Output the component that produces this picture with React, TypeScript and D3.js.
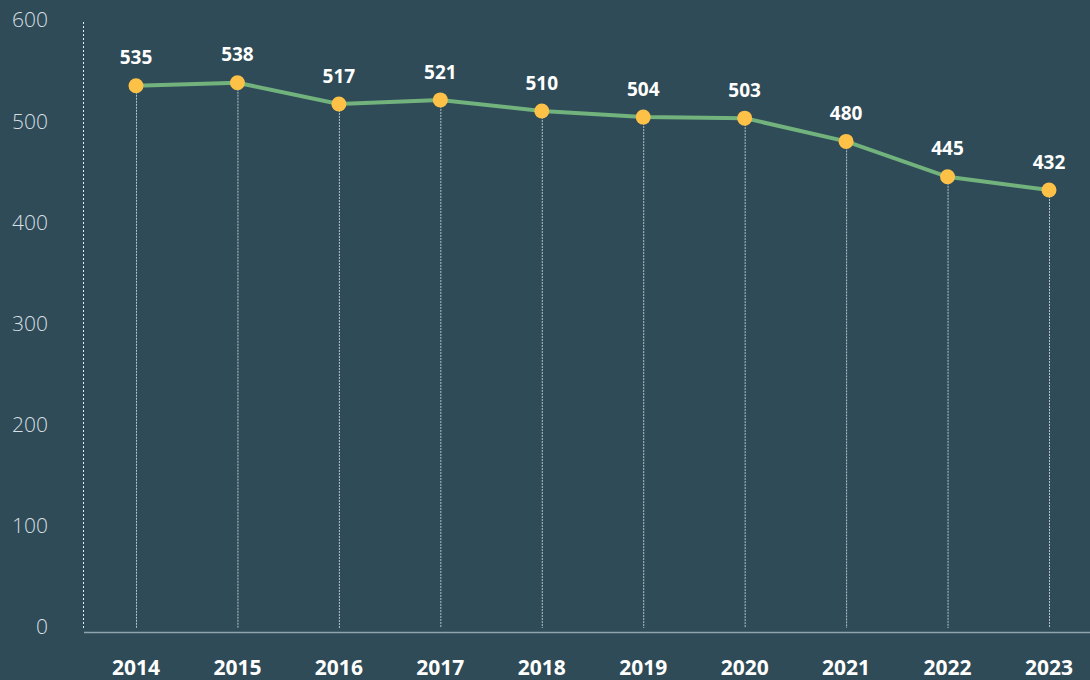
import React from "react";
import * as d3 from "d3";

const years = ["2014", "2015", "2016", "2017", "2018", "2019", "2020", "2021", "2022", "2023"];
const values = [535, 538, 517, 521, 510, 504, 503, 480, 445, 432];
const yTicks = [0, 100, 200, 300, 400, 500, 600];

const W = 1090;
const H = 680;

export default function App() {
  const x = d3.scalePoint<string>().domain(years).range([136, 1049]);
  const y = d3.scaleLinear().domain([0, 600]).range([627, 20]);
  const line = d3
    .line<number>()
    .x((_, i) => x(years[i]) as number)
    .y((d) => y(d));
  const font = "'Open Sans', 'Noto Sans', sans-serif";

  return (
    <svg
      width={W}
      height={H}
      style={{ position: "fixed", left: 0, top: 0, display: "block" }}
    >
      <rect x={0} y={0} width={W} height={H} fill="#2e4b57" />
      {yTicks.map((t) => (
        <text
          key={t}
          x={48}
          y={y(t)}
          dy="0.35em"
          textAnchor="end"
          fontFamily={font}
          fontWeight={300}
          fontSize={21}
          fill="#d6dfe2"
        >
          {t}
        </text>
      ))}
      <line
        x1={83.5}
        x2={83.5}
        y1={22}
        y2={628}
        stroke="#e8eef0"
        strokeWidth={1}
        strokeDasharray="2,2"
      />
      <line x1={84} x2={W} y1={632.5} y2={632.5} stroke="#8fa5ad" strokeWidth={1.5} />
      {values.map((v, i) => (
        <line
          key={"d" + i}
          x1={(x(years[i]) as number) + 0.5}
          x2={(x(years[i]) as number) + 0.5}
          y1={y(v)}
          y2={628}
          stroke="#b7c5cb"
          strokeWidth={1}
          strokeDasharray="2,1"
        />
      ))}
      <path d={line(values) || ""} fill="none" stroke="#72b27c" strokeWidth={4} />
      {values.map((v, i) => (
        <circle key={"c" + i} cx={x(years[i]) as number} cy={y(v)} r={7.5} fill="#fdc148" />
      ))}
      {values.map((v, i) => (
        <text
          key={"l" + i}
          x={x(years[i]) as number}
          y={y(v) - 28}
          dy="0.35em"
          textAnchor="middle"
          fontFamily={font}
          fontWeight={700}
          fontSize={19}
          fill="#ffffff"
        >
          {v}
        </text>
      ))}
      {years.map((yr) => (
        <text
          key={yr}
          x={x(yr) as number}
          y={668}
          dy="0.35em"
          textAnchor="middle"
          fontFamily={font}
          fontWeight={700}
          fontSize={21}
          fill="#ffffff"
        >
          {yr}
        </text>
      ))}
    </svg>
  );
}
